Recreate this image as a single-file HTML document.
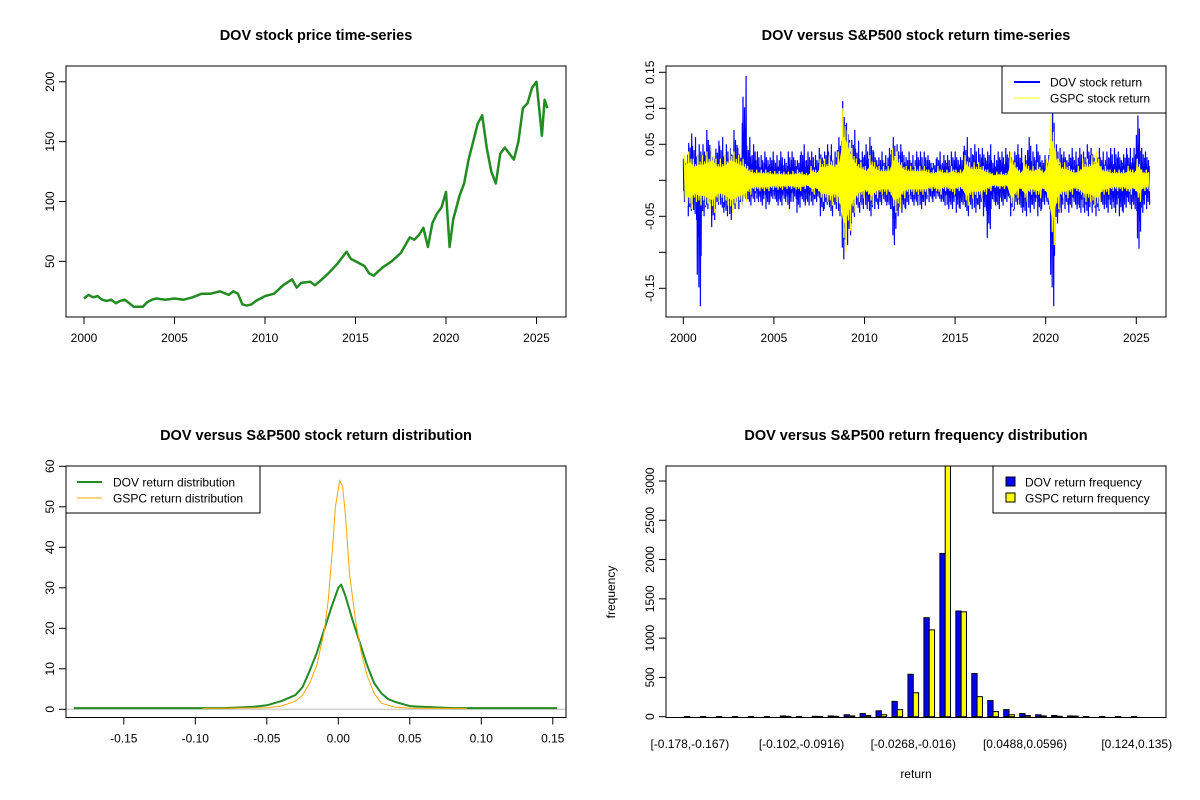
<!DOCTYPE html>
<html><head><meta charset="utf-8"><style>
html,body{margin:0;padding:0;background:#fff;}
svg{display:block;font-family:"Liberation Sans",Arial,sans-serif;}
</style></head><body>
<svg id="chart" width="1200" height="800" viewBox="0 0 1200 800" xmlns="http://www.w3.org/2000/svg">
<rect width="1200" height="800" fill="#fff"/>
<text x="316" y="40" text-anchor="middle" font-size="14.5" font-weight="bold">DOV stock price time-series</text>
<text x="916" y="40" text-anchor="middle" font-size="14.5" font-weight="bold">DOV versus S&amp;P500 stock return time-series</text>
<text x="316" y="440" text-anchor="middle" font-size="14.5" font-weight="bold">DOV versus S&amp;P500 stock return distribution</text>
<text x="916" y="440" text-anchor="middle" font-size="14.5" font-weight="bold">DOV versus S&amp;P500 return frequency distribution</text>
<g id="p1"></g>
<g id="p2"></g>
<g id="p3"></g>
<g id="p4"></g>
</svg>
<script>
// ---------- data ----------
const priceYears = [2000,2000.25,2000.5,2000.75,2001,2001.25,2001.5,2001.75,2002,2002.25,2002.5,2002.75,2003,2003.25,2003.5,2003.75,2004,2004.5,2005,2005.5,2006,2006.5,2007,2007.5,2008,2008.25,2008.5,2008.75,2009,2009.25,2009.5,2009.75,2010,2010.5,2011,2011.5,2011.75,2012,2012.5,2012.75,2013,2013.5,2014,2014.5,2014.75,2015,2015.5,2015.75,2016,2016.5,2017,2017.5,2018,2018.25,2018.5,2018.75,2019,2019.25,2019.5,2019.75,2020,2020.2,2020.4,2020.75,2021,2021.25,2021.5,2021.75,2022,2022.25,2022.5,2022.75,2023,2023.25,2023.5,2023.75,2024,2024.25,2024.5,2024.75,2025,2025.2,2025.3,2025.45,2025.6];
const priceValues = [19,22,20,21,18,17,18,15,17,18,15,12,12,12,16,18,19,18,19,18,20,23,23,25,22,25,23,14,13,14,17,19,21,23,30,35,28,32,33,30,33,40,48,58,52,50,46,40,38,45,50,57,70,68,72,78,62,82,90,95,108,62,85,105,115,135,150,165,172,145,125,115,140,145,140,135,150,178,182,195,200,170,155,185,178];
const priceTicks = [50,100,150,200];
const yearTicks = [2000,2005,2010,2015,2020,2025];

const dovHigh = [.03,.065,.06,.05, .05,.07,.04,.055, .06,.05,.045,.07, .045,.145,.06,.05, .04,.035,.04,.04, .035,.04,.03,.04, .04,.035,.05,.04, .04,.035,.045,.05, .05,.04,.06,.11, .08,.07,.055,.04, .05,.06,.04,.04, .035,.045,.06,.05, .05,.04,.035,.04, .04,.04,.035,.03, .04,.035,.035,.04, .04,.04,.06,.045, .05,.045,.045,.05, .035,.04,.04,.045, .04,.05,.045,.035, .06,.04,.05,.035, .035,.1,.05,.045, .04,.045,.04,.045, .04,.05,.045,.045, .04,.04,.045,.045, .04,.045,.045,.045, .09,.045,.04];
const dovLow = [-.03,-.05,-.055,-.175, -.05,-.04,-.065,-.04, -.045,-.05,-.055,-.04, -.04,-.03,-.035,-.03, -.03,-.035,-.04,-.03, -.035,-.035,-.03,-.04, -.03,-.045,-.035,-.035, -.035,-.03,-.05,-.04, -.05,-.04,-.05,-.11, -.09,-.06,-.045,-.04, -.04,-.05,-.04,-.04, -.035,-.04,-.09,-.05, -.045,-.04,-.035,-.035, -.04,-.035,-.03,-.03, -.03,-.035,-.04,-.04, -.045,-.04,-.05,-.04, -.045,-.04,-.05,-.08, -.035,-.04,-.035,-.03, -.05,-.04,-.045,-.05, -.045,-.04,-.05,-.04, -.04,-.175,-.06,-.045, -.04,-.045,-.04,-.045, -.045,-.05,-.045,-.05, -.04,-.045,-.04,-.045, -.05,-.045,-.04,-.04, -.095,-.045,-.04];
const gspcAmp = [.035,.04,.03,.035, .035,.04,.045,.03, .03,.035,.045,.04, .035,.03,.02,.015, .015,.015,.015,.013, .013,.013,.012,.012, .013,.015,.012,.01, .02,.015,.03,.03, .035,.03,.04,.1, .07,.045,.03,.025, .02,.035,.025,.02, .02,.02,.045,.04, .025,.02,.02,.02, .02,.02,.015,.015, .02,.015,.015,.02, .015,.015,.035,.025, .025,.025,.02,.015, .01,.012,.012,.01, .04,.025,.015,.03, .02,.02,.025,.015, .03,.09,.04,.025, .025,.02,.015,.02, .03,.03,.035,.04, .02,.02,.015,.015, .015,.015,.02,.015, .03,.015,.015];
const returnTicks = [-0.15,-0.10,-0.05,0,0.05,0.10,0.15];
const returnTickLabels = ["-0.15","","-0.05","","0.05","0.10","0.15"];

const dovDensX = [-0.185,-0.08,-0.06,-0.05,-0.04,-0.03,-0.025,-0.02,-0.015,-0.01,-0.005,0,0.002,0.005,0.01,0.015,0.02,0.025,0.03,0.035,0.04,0.05,0.06,0.08,0.153];
const dovDensY = [0.3,0.3,0.6,1,2,3.5,5.5,9.5,14,19.5,25,30,30.8,28,22,16.5,11,6.5,4,2.5,1.8,0.8,0.6,0.3,0.3];
const gspcDensX = [-0.095,-0.05,-0.04,-0.03,-0.025,-0.02,-0.015,-0.01,-0.007,-0.004,-0.002,0.001,0.003,0.005,0.008,0.012,0.016,0.02,0.025,0.03,0.04,0.05,0.09];
const gspcDensY = [0.2,0.4,0.8,2.0,3.5,6.5,11,19,27,40,50,56.5,55,48,33,22,14,8.5,4,1.5,0.5,0.3,0.2];
const densXTicks = [-0.15,-0.10,-0.05,0,0.05,0.10,0.15];
const densXLabels = ["-0.15","-0.10","-0.05","0.00","0.05","0.10","0.15"];
const densYTicks = [0,10,20,30,40,50,60];

const binLabels = ["[-0.178,-0.167)","","","","","","","[-0.102,-0.0916)","","","","","","","[-0.0268,-0.016)","","","","","","","[0.0488,0.0596)","","","","","","","[0.124,0.135)"];
const dovFreq  = [2,2,2,2,2,2,10,2,5,10,25,40,75,195,540,1260,2078,1345,550,205,90,40,25,15,10,2,2,2,2];
const gspcFreq = [0,0,0,0,0,0,5,0,2,5,10,15,25,90,305,1105,3800,1335,255,65,25,15,10,5,8,0,0,0,0];
const freqTicks = [0,500,1000,1500,2000,2500,3000];

// ---------- helpers ----------
const NS = "http://www.w3.org/2000/svg";
function mk(parent, tag, attrs){ const e=document.createElementNS(NS,tag); for(const k in attrs) e.setAttribute(k,attrs[k]); parent.appendChild(e); return e; }
function box(g,x0,y0,x1,y1){ const r=mk(g,'rect',{x:x0,y:y0,width:x1-x0,height:y1-y0,fill:'none',stroke:'#000','stroke-width':1});

 }
function xAxis(g, ticks, labels, sx, yb){
  ticks.forEach((t,i)=>{ const x=sx(t);
    const l=mk(g,'line',{x1:x,y1:yb,x2:x,y2:yb+7,stroke:'#000'});
    
    
    if(labels[i]!==""){ const tx=mk(g,'text',{x:x,y:yb+25,'text-anchor':'middle','font-size':12}); tx.textContent=labels[i];
      
       }
  });
  const a=mk(g,'line',{x1:sx(ticks[0]),y1:yb,x2:sx(ticks[ticks.length-1]),y2:yb,stroke:'#000'});
  
  
}
function yAxis(g, ticks, labels, sy, xl){
  ticks.forEach((t,i)=>{ const y=sy(t);
    const l=mk(g,'line',{x1:xl-7,y1:y,x2:xl,y2:y,stroke:'#000'});
    
    
    if(labels[i]!==""){ const tx=mk(g,'text',{x:0,y:0,'text-anchor':'middle','font-size':12,transform:`translate(${xl-12},${y}) rotate(-90)`}); tx.textContent=labels[i];
      
       }
  });
  const a=mk(g,'line',{x1:xl,y1:sy(ticks[0]),x2:xl,y2:sy(ticks[ticks.length-1]),stroke:'#000'});
  
  
}

// ---------- panel 1: price ----------
(function(){
  const g=document.getElementById('p1');
  const sx=t=>84+(t-2000)*18.1, sy=v=>321.2-v*1.197;
  const pts=priceYears.map((t,i)=>sx(t).toFixed(1)+','+sy(priceValues[i]).toFixed(1)).join(' ');
  const pl=mk(g,'polyline',{points:pts,fill:'none',stroke:'#228B22','stroke-width':2.5,'stroke-linejoin':'round'});
  
  
  box(g,66,66,566,317);
  xAxis(g,yearTicks,yearTicks.map(String),sx,317);
  yAxis(g,priceTicks,priceTicks.map(String),sy,66);
})();

// ---------- panel 2: returns ----------
(function(){
  const g=document.getElementById('p2');
  const sx=t=>683.3+(t-2000)*18.12, sy=v=>180.3-v*720;
  const n=dovHigh.length, dt=0.25;
  // shape multipliers for sub-strokes within a quarter (style only)
  const subU=[1,0.55,0.8,0.45,0.7,0.5], subL=[0.5,1,0.6,0.75,0.45,0.85];
  let dp=[];
  for(let i=0;i<n;i++){ const t=2000+i*dt; const r=i%6;
    for(let j=0;j<6;j++){ const m=(j+r)%6;
      dp.push([t+dt*(j/6+0.02),dovHigh[i]*subU[m]],[t+dt*(j/6+0.1),dovLow[i]*subL[m]]); } }
  const dl=mk(g,'polyline',{points:dp.map(p=>sx(p[0]).toFixed(1)+','+sy(p[1]).toFixed(1)).join(' '),fill:'none',stroke:'#0000FF','stroke-width':1.2});
  
  
  let up=[],lo=[];
  for(let i=0;i<n;i++){ const t=2000+(i+0.5)*dt; up.push(sx(t).toFixed(1)+','+sy(gspcAmp[i]*0.6).toFixed(1)); lo.unshift(sx(t).toFixed(1)+','+sy(-gspcAmp[i]*0.6).toFixed(1)); }
  const ga=mk(g,'polygon',{points:up.concat(lo).join(' '),fill:'#FFFF00',stroke:'#FFFF00','stroke-width':1});
  
  
  let gp=[];
  for(let i=0;i<n;i++){ const t=2000+i*dt; gp.push([t+dt*0.2,gspcAmp[i]],[t+dt*0.45,-gspcAmp[i]*0.8],[t+dt*0.7,gspcAmp[i]*0.75],[t+dt*0.9,-gspcAmp[i]]); }
  const gl=mk(g,'polyline',{points:gp.map(p=>sx(p[0]).toFixed(1)+','+sy(p[1]).toFixed(1)).join(' '),fill:'none',stroke:'#FFFF00','stroke-width':1.2});
  
  
  box(g,666,66,1166,317);
  xAxis(g,yearTicks,yearTicks.map(String),sx,317);
  yAxis(g,returnTicks,returnTickLabels,sy,666);
  const lg=mk(g,'g',{});  
  mk(lg,'rect',{x:1002,y:66,width:164,height:47,fill:'#fff',stroke:'#000'});
  mk(lg,'line',{x1:1014,y1:82,x2:1040,y2:82,stroke:'#0000FF','stroke-width':2});
  mk(lg,'line',{x1:1014,y1:98,x2:1040,y2:98,stroke:'#FFFF00','stroke-width':1});
  const t1=mk(lg,'text',{x:1050,y:86.5,'font-size':12}); t1.textContent='DOV stock return';
  const t2=mk(lg,'text',{x:1050,y:102.5,'font-size':12}); t2.textContent='GSPC stock return';
})();

// ---------- panel 3: density ----------
(function(){
  const g=document.getElementById('p3');
  const sx=v=>338.3+v*1430, sy=v=>709.3-v*4.05;
  const h=mk(g,'line',{x1:66,y1:sy(0),x2:566,y2:sy(0),stroke:'#BEBEBE'});
  
  
  const d=mk(g,'polyline',{points:dovDensX.map((x,i)=>sx(x).toFixed(1)+','+sy(dovDensY[i]).toFixed(1)).join(' '),fill:'none',stroke:'#228B22','stroke-width':2,'stroke-linejoin':'round'});
  
  
  const s=mk(g,'polyline',{points:gspcDensX.map((x,i)=>sx(x).toFixed(1)+','+sy(gspcDensY[i]).toFixed(1)).join(' '),fill:'none',stroke:'#FFA500','stroke-width':1});
  
  
  box(g,66,466,566,717.5);
  xAxis(g,densXTicks,densXLabels,sx,717.5);
  yAxis(g,densYTicks,densYTicks.map(String),sy,66);
  const lg=mk(g,'g',{});  
  mk(lg,'rect',{x:66,y:466,width:194,height:47,fill:'#fff',stroke:'#000'});
  mk(lg,'line',{x1:77,y1:482,x2:102,y2:482,stroke:'#228B22','stroke-width':2});
  mk(lg,'line',{x1:77,y1:498,x2:102,y2:498,stroke:'#FFA500','stroke-width':1});
  const t1=mk(lg,'text',{x:113,y:486.5,'font-size':12}); t1.textContent='DOV return distribution';
  const t2=mk(lg,'text',{x:113,y:502.5,'font-size':12}); t2.textContent='GSPC return distribution';
})();

// ---------- panel 4: histogram ----------
(function(){
  const g=document.getElementById('p4');
  const unit=5.32, ux=u=>666+(u+2.48)*unit, sy=v=>716.7-v*0.07857;
  const clip=mk(g,'clipPath',{id:'c4'}); mk(clip,'rect',{x:666,y:466,width:500,height:252});
  const bars=mk(g,'g',{'clip-path':'url(#c4)'});
  dovFreq.forEach((v,k)=>{
    const b=mk(bars,'rect',{x:ux(1+3*k),y:sy(v),width:unit,height:sy(0)-sy(v),fill:'#0000FF',stroke:'#000','stroke-width':1});
    
    
  });
  gspcFreq.forEach((v,k)=>{
    const b=mk(bars,'rect',{x:ux(2+3*k),y:sy(v),width:unit,height:sy(0)-sy(v),fill:'#FFFF00',stroke:'#000','stroke-width':1});
    
    
  });
  box(g,666,466,1166,717.5);
  yAxis(g,freqTicks,freqTicks.map(String),sy,666);
  binLabels.forEach((lab,k)=>{ if(lab==="") return;
    const t=mk(g,'text',{x:ux(2+3*k),y:748,'text-anchor':'middle','font-size':12}); t.textContent=lab;
    
    
  });
  const xt=mk(g,'text',{x:916,y:778,'text-anchor':'middle','font-size':12}); xt.textContent='return';
  
  
  const yt=mk(g,'text',{x:0,y:0,'text-anchor':'middle','font-size':12,transform:'translate(615,592) rotate(-90)'}); yt.textContent='frequency';
  
  
  const lg=mk(g,'g',{});  
  mk(lg,'rect',{x:993,y:466,width:173,height:47,fill:'#fff',stroke:'#000'});
  mk(lg,'rect',{x:1006,y:477,width:9,height:9,fill:'#0000FF',stroke:'#000'});
  mk(lg,'rect',{x:1006,y:493,width:9,height:9,fill:'#FFFF00',stroke:'#000'});
  const t1=mk(lg,'text',{x:1025,y:486.5,'font-size':12}); t1.textContent='DOV return frequency';
  const t2=mk(lg,'text',{x:1025,y:502.5,'font-size':12}); t2.textContent='GSPC return frequency';
})();
</script>
</body></html>
